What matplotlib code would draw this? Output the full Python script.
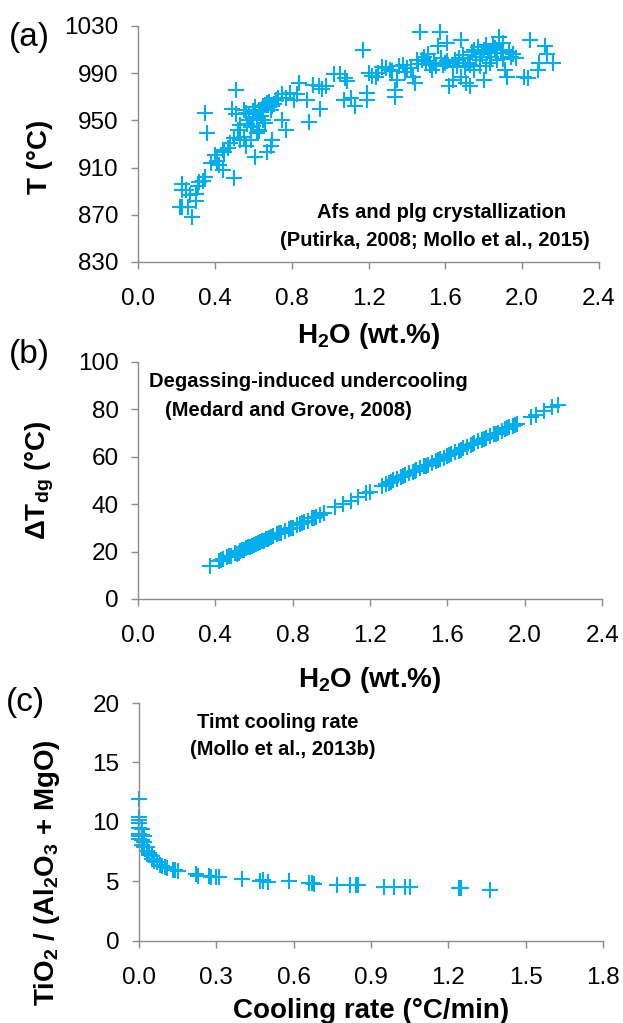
import matplotlib.pyplot as plt

# ── Panel (a): temperature vs H2O ─────────────────────────────────────
h2o_a = [0.23, 0.23, 0.25, 0.23, 0.28, 0.30, 0.31, 0.32, 0.34, 0.35, 0.30, 0.27, 0.22, 0.26,
         0.35, 0.36, 0.41, 0.42, 0.45, 0.44, 0.50, 0.48, 0.50, 0.53, 0.51, 0.49, 0.51, 0.55,
         0.56, 0.58, 0.60, 0.62, 0.63, 0.65, 0.67, 0.69, 0.70, 0.62, 0.63, 0.59, 0.61, 0.67,
         0.69, 0.70, 0.72, 0.75, 0.77, 0.79, 0.81, 0.83, 0.84, 0.88, 0.89, 0.77, 0.75, 0.56,
         0.55, 0.63, 0.65, 0.58, 0.60, 0.62, 0.64, 0.66, 0.57, 0.59, 0.61, 0.64, 0.53, 0.47,
         0.44, 0.40, 0.38, 0.52, 0.66, 0.68, 0.71, 0.73,
         0.91, 0.94, 0.95, 0.96, 0.98, 1.02, 1.05, 1.08, 1.09, 1.07, 1.11, 1.13, 1.17, 1.19,
         1.19, 1.20, 1.22, 1.24, 1.29, 1.31, 1.34, 1.34, 1.35, 1.36, 1.39, 1.42, 1.43, 1.44,
         1.47, 1.48, 1.51, 1.54, 1.57, 1.56, 1.59, 1.61, 1.62, 1.64, 1.68, 1.66, 1.68, 1.71,
         1.73, 1.75, 1.76, 1.78, 1.80, 1.80, 1.81, 1.83, 1.85, 1.87, 1.88, 1.89, 1.90, 1.91,
         1.92, 1.94, 1.95, 1.97, 2.01, 2.03, 2.04, 2.08, 2.09, 2.12, 2.13, 2.16, 1.75, 1.72,
         1.70, 1.64, 1.61, 1.55, 1.50, 1.46, 1.40, 1.38, 1.32, 1.27, 1.25, 1.45, 1.52, 1.58,
         1.65, 1.69, 1.74, 1.77, 1.79, 1.82, 1.84, 1.86, 1.83, 1.87, 1.90, 1.78, 1.76, 1.81,
         1.93, 1.85, 1.73, 1.67, 1.60, 1.53, 1.49]
temp_a = [891, 896, 891, 877, 868, 888, 894, 898, 899, 902, 882, 887, 877, 877,
          956, 939, 916, 912, 923, 908, 901, 931, 935, 933, 976, 960, 955, 959,
          956, 950, 945, 953, 959, 962, 965, 959, 962, 939, 942, 933, 919, 923,
          928, 933, 967, 972, 969, 973, 967, 972, 982, 967, 949, 942, 950, 928,
          936, 941, 950, 955, 958, 952, 957, 963, 947, 944, 961, 954, 946, 927,
          925, 921, 914, 942, 948, 966, 964, 969,
          980, 979, 960, 977, 979, 989, 989, 986, 983, 967, 969, 962, 1010, 973,
          967, 990, 988, 987, 994, 993, 976, 970, 984, 996, 991, 994, 987, 982,
          1025, 1001, 1006, 999, 1025, 1013, 997, 1016, 979, 984, 1018, 996, 987, 982,
          979, 993, 1004, 1001, 1010, 984, 996, 1007, 1013, 1001, 1021, 1010, 1016, 993,
          987, 1004, 1006, 1003, 987, 986, 1018, 993, 999, 1013, 1006, 999, 1010, 999,
          995, 995, 1000, 996, 1000, 998, 994, 997, 992, 995, 990, 1001, 997, 1003,
          1001, 1005, 1008, 1012, 1006, 1009, 1004, 1011, 999, 1007, 1002, 996, 1004, 1014,
          1008, 1015, 997, 1003, 999, 993, 1004]

# ── Panel (b): degassing-induced undercooling vs H2O ──────────────────
h2o_b = [0.37, 0.42, 0.44, 0.46, 0.48, 0.50, 0.52, 0.54, 0.55, 0.57, 0.58, 0.60, 0.61, 0.62,
         0.63, 0.64, 0.65, 0.66, 0.67, 0.68, 0.70, 0.72, 0.74, 0.76, 0.78, 0.80, 0.82, 0.84,
         0.86, 0.88, 0.90, 0.92, 0.94, 0.96, 1.02, 1.06, 1.10, 1.14, 1.18, 1.20, 1.26, 1.28,
         1.30, 1.32, 1.34, 1.36, 1.38, 1.40, 1.42, 1.44, 1.46, 1.48, 1.50, 1.52, 1.54, 1.56,
         1.58, 1.60, 1.62, 1.64, 1.66, 1.68, 1.70, 1.72, 1.74, 1.76, 1.78, 1.80, 1.82, 1.84,
         1.86, 1.88, 1.90, 1.92, 1.94, 1.96, 2.03, 2.06, 2.10, 2.14, 2.17,
         0.43, 0.47, 0.51, 0.53, 0.56, 0.59, 0.63, 0.69, 0.73, 0.79, 0.85, 0.91, 1.31, 1.37,
         1.43, 1.49, 1.55, 1.61, 1.67, 1.73, 1.79, 1.85, 1.91, 1.95]
dtdg_b = [14.0, 16.0, 16.8, 17.6, 18.0, 19.2, 19.5, 20.6, 20.8, 21.8, 21.9, 22.9, 23.0, 23.6,
          23.9, 24.5, 24.6, 25.2, 25.5, 25.8, 26.6, 27.4, 28.0, 28.8, 29.6, 30.1, 31.0, 31.7,
          32.5, 33.1, 34.0, 34.6, 35.5, 36.2, 38.6, 40.2, 41.5, 43.0, 44.7, 45.3, 47.6, 48.5,
          49.1, 50.0, 50.6, 51.5, 52.1, 53.0, 53.6, 54.5, 55.1, 56.0, 56.6, 57.5, 58.1, 59.0,
          59.6, 60.5, 61.1, 62.0, 62.6, 63.5, 64.1, 65.0, 65.6, 66.5, 67.1, 68.0, 68.6, 69.5,
          70.1, 71.0, 71.6, 72.5, 73.1, 74.0, 76.6, 77.7, 79.3, 81.0, 81.8,
          16.5, 18.1, 19.0, 20.3, 21.3, 22.2, 24.1, 26.3, 27.7, 29.9, 32.1, 34.3, 49.5, 51.8,
          54.0, 56.3, 58.5, 60.7, 63.0, 65.3, 67.5, 69.8, 72.0, 73.6]

# ── Panel (c): Ti-number vs cooling rate ──────────────────────────────
rate_c = [0.00, 0.00, 0.00, 0.00, 0.00, 0.00, 0.00, 0.00, 0.01, 0.01, 0.01, 0.01, 0.02, 0.02,
          0.02, 0.03, 0.03, 0.04, 0.04, 0.05, 0.05, 0.06, 0.07, 0.08, 0.09, 0.10, 0.11, 0.13,
          0.14, 0.15, 0.22, 0.23, 0.27, 0.28, 0.30, 0.31, 0.40, 0.47, 0.48, 0.48, 0.50, 0.58,
          0.66, 0.67, 0.68, 0.77, 0.82, 0.84, 0.85, 0.95, 0.99, 1.03, 1.05, 1.24, 1.25, 1.36]
ratio_c = [11.9, 10.2, 9.9, 9.5, 9.0, 8.8, 8.6, 10.4, 9.4, 8.9, 8.5, 8.1, 8.8, 8.3,
           7.9, 7.9, 7.6, 7.4, 7.2, 7.1, 6.9, 6.7, 6.6, 6.4, 6.3, 6.2, 6.1, 6.0,
           5.95, 5.9, 5.6, 5.5, 5.45, 5.4, 5.35, 5.35, 5.2, 5.05, 5.0, 5.1, 4.95, 5.0,
           4.85, 4.85, 4.8, 4.7, 4.7, 4.72, 4.7, 4.55, 4.55, 4.55, 4.55, 4.45, 4.45, 4.3]

h2o_ticks = [0.0, 0.4, 0.8, 1.2, 1.6, 2.0, 2.4]
rate_ticks = [0.0, 0.3, 0.6, 0.9, 1.2, 1.5, 1.8]

CYAN = "#00ADEF"
GRAY = "#8c8c8c"
TICK_FS = 17.5
LABEL_FS = 20
NOTE_FS = 14.5

plt.rcParams["font.family"] = ["Liberation Sans", "DejaVu Sans"]
plt.rcParams["mathtext.fontset"] = "custom"
plt.rcParams["mathtext.rm"] = "Liberation Sans:bold"
plt.rcParams["mathtext.bf"] = "Liberation Sans:bold"
plt.rcParams["mathtext.default"] = "rm"


def style_axes(ax):
    for side in ("top", "right"):
        ax.spines[side].set_visible(False)
    for side in ("left", "bottom"):
        ax.spines[side].set_color(GRAY)
        ax.spines[side].set_linewidth(1.0)
    ax.tick_params(direction="out", length=5, width=1.0, color=GRAY,
                   labelsize=TICK_FS, labelcolor="black")
    ax.tick_params(axis="x", pad=14)
    ax.tick_params(axis="y", pad=9)


def scatter(ax, x, y):
    ax.plot(x, y, linestyle="none", marker="+", markersize=11,
            markeredgewidth=1.5, color=CYAN, clip_on=False)


def note(ax, x, y, s, ha="center"):
    ax.text(x, y, s, transform=ax.transAxes, ha=ha, va="center",
            fontsize=NOTE_FS, fontweight="bold")


fig = plt.figure(figsize=(6.23, 10.23), dpi=100)
ax_a = fig.add_axes([0.2215, 0.7439, 0.740, 0.2307])
ax_b = fig.add_axes([0.2215, 0.4145, 0.745, 0.2317])
ax_c = fig.add_axes([0.2231, 0.0802, 0.7448, 0.2326])

# (a)
scatter(ax_a, h2o_a, temp_a)
ax_a.set_xlim(0, 2.4)
ax_a.set_ylim(830, 1030)
ax_a.set_xticks(h2o_ticks)
ax_a.set_xticklabels([f"{t:.1f}" for t in h2o_ticks])
ax_a.set_yticks([830, 870, 910, 950, 990, 1030])
style_axes(ax_a)
ax_a.set_xlabel("H$_2$O (wt.%)", fontsize=LABEL_FS, fontweight="bold", labelpad=8)
ax_a.set_ylabel("T (°C)", fontsize=LABEL_FS, fontweight="bold", va="center")
ax_a.yaxis.set_label_coords(-0.2126, 0.445)
note(ax_a, 0.659, 0.208, "Afs and plg crystallization")
note(ax_a, 0.644, 0.093, "(Putirka, 2008; Mollo et al., 2015)")

# (b)
scatter(ax_b, h2o_b, dtdg_b)
ax_b.set_xlim(0, 2.4)
ax_b.set_ylim(0, 100)
ax_b.set_xticks(h2o_ticks)
ax_b.set_xticklabels([f"{t:.1f}" for t in h2o_ticks])
ax_b.set_yticks([0, 20, 40, 60, 80, 100])
style_axes(ax_b)
ax_b.set_xlabel("H$_2$O (wt.%)", fontsize=LABEL_FS, fontweight="bold", labelpad=13)
ax_b.set_ylabel("ΔT$_{dg}$ (°C)", fontsize=LABEL_FS, fontweight="bold", va="center")
ax_b.yaxis.set_label_coords(-0.211, 0.5)
note(ax_b, 0.024, 0.916, "Degassing-induced undercooling", ha="left")
note(ax_b, 0.058, 0.797, "(Medard and Grove, 2008)", ha="left")

# (c)
scatter(ax_c, rate_c, ratio_c)
ax_c.set_xlim(0, 1.8)
ax_c.set_ylim(0, 20)
ax_c.set_xticks(rate_ticks)
ax_c.set_xticklabels([f"{t:.1f}" for t in rate_ticks])
ax_c.set_yticks([0, 5, 10, 15, 20])
style_axes(ax_c)
ax_c.set_xlabel("Cooling rate (°C/min)", fontsize=LABEL_FS, fontweight="bold", labelpad=6)
ax_c.set_ylabel("TiO$_2$ / (Al$_2$O$_3$ + MgO)", fontsize=LABEL_FS, fontweight="bold",
                va="center")
ax_c.yaxis.set_label_coords(-0.198, 0.285)
note(ax_c, 0.300, 0.916, "Timt cooling rate")
note(ax_c, 0.310, 0.803, "(Mollo et al., 2013b)")

# panel letters
fig.text(0.014, 0.963, "(a)", fontsize=24, ha="left", va="center")
fig.text(0.014, 0.653, "(b)", fontsize=24, ha="left", va="center")
fig.text(0.010, 0.313, "(c)", fontsize=24, ha="left", va="center")

fig.savefig("out.png", dpi=100)
